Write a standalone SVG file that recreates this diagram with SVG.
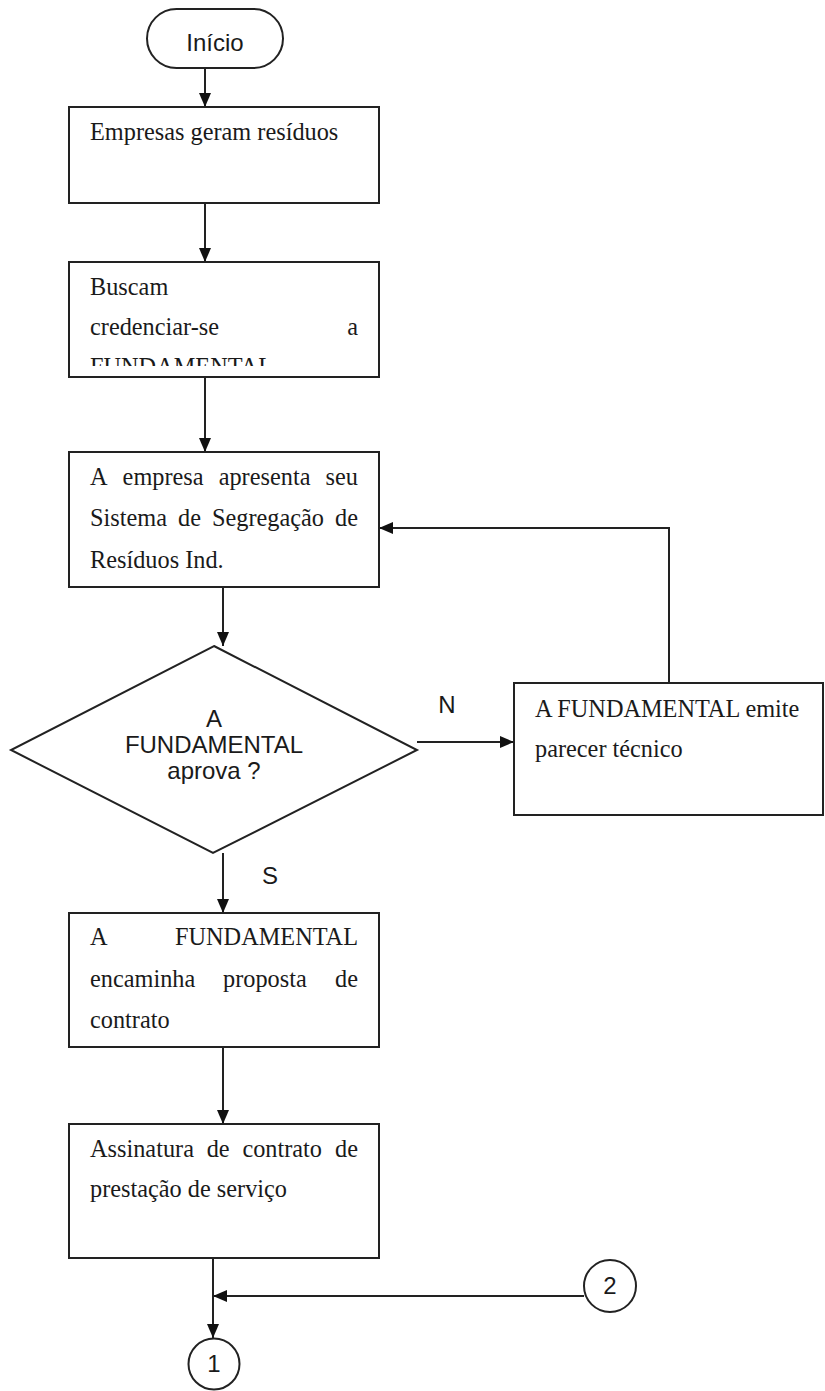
<svg xmlns="http://www.w3.org/2000/svg" width="825" height="1391" viewBox="0 0 825 1391">
<style>
.box{fill:#fff;stroke:#222;stroke-width:2}
.ln{fill:none;stroke:#222;stroke-width:2}
.t{font-family:"Liberation Serif","Times New Roman",serif;font-size:24.3px;fill:#1a1a1a}
.s{font-family:"Liberation Sans",Arial,sans-serif;font-size:24px;fill:#1a1a1a}
.e{text-anchor:end}
</style>
<defs>
<marker id="ah" viewBox="0 0 14 12" refX="14" refY="6" markerWidth="14" markerHeight="12" markerUnits="userSpaceOnUse" orient="auto">
<path d="M0,0 L14,6 L0,12 Z" fill="#111"/>
</marker>
<clipPath id="c2"><rect x="69" y="262" width="310" height="104"/></clipPath>
</defs>
<rect width="825" height="1391" fill="#fff"/>
<g id="connectors">
<line class="ln" x1="205" y1="68" x2="205" y2="107" marker-end="url(#ah)"/>
<line class="ln" x1="205" y1="203" x2="205" y2="262" marker-end="url(#ah)"/>
<line class="ln" x1="205" y1="377" x2="205" y2="452" marker-end="url(#ah)"/>
<line class="ln" x1="223" y1="587" x2="223" y2="646" marker-end="url(#ah)"/>
<line class="ln" x1="417" y1="742" x2="514" y2="742" marker-end="url(#ah)"/>
<polyline class="ln" points="669,683 669,528 379,528" marker-end="url(#ah)"/>
<line class="ln" x1="223" y1="853" x2="223" y2="913" marker-end="url(#ah)"/>
<line class="ln" x1="223" y1="1047" x2="223" y2="1124" marker-end="url(#ah)"/>
<line class="ln" x1="213" y1="1258" x2="213" y2="1338" marker-end="url(#ah)"/>
<line class="ln" x1="584" y1="1296" x2="213" y2="1296" marker-end="url(#ah)"/>
<text class="s" x="447" y="713" font-size="20" text-anchor="middle">N</text>
<text class="s" x="270" y="884" font-size="20" text-anchor="middle">S</text>
</g>
<g id="inicio">
<rect class="box" x="147" y="9" width="136" height="59" rx="29.5"/>
<text class="s" x="215" y="51" font-size="23" text-anchor="middle">Início</text>
</g>
<g id="empresas">
<rect class="box" x="69" y="107" width="310" height="96"/>
<text class="t" x="90" y="140">Empresas geram resíduos</text>
</g>
<g id="buscam">
<rect class="box" x="69" y="262" width="310" height="115"/>
<text class="t" x="90" y="295">Buscam</text>
<text class="t" x="90" y="335">credenciar-se</text>
<text class="t e" x="358" y="335">a</text>
<text class="t" x="90" y="375" clip-path="url(#c2)">FUNDAMENTAL</text>
</g>
<g id="apresenta">
<rect class="box" x="69" y="452" width="310" height="135"/>
<text class="t" x="90" y="485">A</text>
<text class="t" x="122.6" y="485">empresa</text>
<text class="t" x="218.7" y="485">apresenta</text>
<text class="t e" x="358" y="485">seu</text>
<text class="t" x="90" y="526">Sistema</text>
<text class="t" x="178" y="526">de</text>
<text class="t" x="212" y="526">Segregação</text>
<text class="t e" x="358" y="526">de</text>
<text class="t" x="90" y="568">Resíduos Ind.</text>
</g>
<g id="decisao">
<polygon class="box" points="214,646 417,750 213,853 11,750"/>
<text class="s" x="214" y="727" text-anchor="middle">A</text>
<text class="s" x="214" y="753" text-anchor="middle">FUNDAMENTAL</text>
<text class="s" x="214" y="779" text-anchor="middle">aprova ?</text>
</g>
<g id="parecer">
<rect class="box" x="514" y="683" width="309" height="132"/>
<text class="t" x="535" y="717">A FUNDAMENTAL emite</text>
<text class="t" x="535" y="757">parecer técnico</text>
</g>
<g id="proposta">
<rect class="box" x="69" y="913" width="310" height="134"/>
<text class="t" x="90" y="945">A</text>
<text class="t e" x="358" y="945">FUNDAMENTAL</text>
<text class="t" x="90" y="987">encaminha</text>
<text class="t" x="223" y="987">proposta</text>
<text class="t e" x="358" y="987">de</text>
<text class="t" x="90" y="1028">contrato</text>
</g>
<g id="assinatura">
<rect class="box" x="69" y="1124" width="310" height="134"/>
<text class="t" x="90" y="1157">Assinatura</text>
<text class="t" x="206.7" y="1157">de</text>
<text class="t" x="242.4" y="1157">contrato</text>
<text class="t e" x="358" y="1157">de</text>
<text class="t" x="90" y="1197">prestação de serviço</text>
</g>
<g id="c1">
<circle class="box" cx="214" cy="1364" r="25.5"/>
<text class="s" x="214" y="1372" font-size="22" text-anchor="middle">1</text>
</g>
<g id="c2n">
<circle class="box" cx="610" cy="1286" r="26"/>
<text class="s" x="610" y="1294" font-size="22" text-anchor="middle">2</text>
</g>
</svg>
